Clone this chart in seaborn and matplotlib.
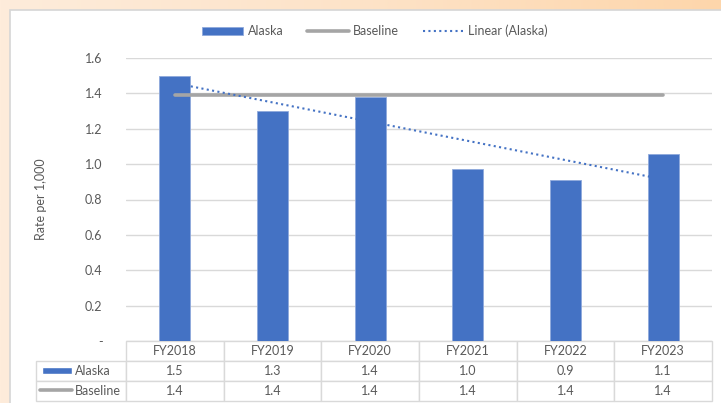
import numpy as np
import matplotlib
matplotlib.use("Agg")
import matplotlib.pyplot as plt
import seaborn as sns
from matplotlib.patches import Rectangle
from matplotlib.lines import Line2D
from matplotlib.ticker import FuncFormatter
from matplotlib.colors import LinearSegmentedColormap

# data
years = ["FY2018", "FY2019", "FY2020", "FY2021", "FY2022", "FY2023"]
alaska = [1.50, 1.30, 1.38, 0.97, 0.91, 1.055]
baseline = [1.39, 1.39, 1.39, 1.39, 1.39, 1.39]
row_names = ["Alaska", "Baseline"]

BLUE = "#4472c4"
GREY = "#a5a5a5"
TXT = "#595959"
GRID = "#d9d9d9"
FS = 9

sns.set_theme(style="white")
plt.rcParams['font.family'] = ['Lato', 'DejaVu Sans']
plt.rcParams['font.size'] = FS

W, H = 721, 403
fig = plt.figure(figsize=(W / 100, H / 100), dpi=100)

# peach background with white chart panel
bg = fig.add_axes([0, 0, 1, 1], zorder=-10)
grad = np.linspace(0, 1, 256).reshape(1, -1)
cmap = LinearSegmentedColormap.from_list("peach", ["#feecdb", "#fde3c8", "#fdd6ab"])
bg.imshow(grad, aspect="auto", cmap=cmap, extent=[0, 1, 0, 1])
bg.add_patch(Rectangle((10 / W, -0.01), 1.0, 1 - 10 / H + 0.01, facecolor="white",
                       edgecolor="#d6d6d6", linewidth=1.2))
bg.set_xlim(0, 1)
bg.set_ylim(0, 1)
bg.axis("off")

# plot area
left, right, top, bottom = 126, 712, 58, 341
ax = fig.add_axes([left / W, 1 - bottom / H, (right - left) / W, (bottom - top) / H])
ax.set_facecolor("none")

sns.barplot(x=years, y=alaska, color=BLUE, saturation=1, width=0.32, ax=ax,
            edgecolor="#8fa9dc", linewidth=0.6, zorder=3)
bars = ax.containers[0]

pos = np.arange(len(years))
base_line, = ax.plot(pos, baseline, color=GREY, lw=2.6, solid_capstyle="round", zorder=4)

# linear trendline of the Alaska series
coef = np.polyfit(pos, alaska, 1)
trend, = ax.plot(pos, np.polyval(coef, pos), color=BLUE, lw=1.5, ls=(0, (1, 1.6)), zorder=5)

ax.set_ylim(0, 1.6)
ax.set_xlim(-0.5, len(years) - 0.5)
ax.set_yticks(np.arange(0, 1.61, 0.2))
ax.yaxis.set_major_formatter(FuncFormatter(lambda v, p: "-" if abs(v) < 1e-9 else f"{v:.1f}"))
ax.grid(axis="y", color=GRID, lw=1)
ax.set_axisbelow(True)
ax.tick_params(axis="y", length=0, pad=17, labelcolor=TXT, labelsize=FS)
ax.tick_params(axis="x", length=0, labelbottom=False)
ax.set_xlabel("")
ax.set_ylabel("Rate per 1,000", color=TXT, fontsize=FS, labelpad=27)
for s in ax.spines.values():
    s.set_visible(False)

# data table under the plot
axw, axh = right - left, bottom - top
lab_w = 90
tbl = ax.table(cellText=[[f"{v:.1f}" for v in alaska], [f"{v:.1f}" for v in baseline]],
               colLabels=years, cellLoc="center",
               bbox=[0, -60 / axh, 1, 60 / axh])
tbl.auto_set_font_size(False)
tbl.set_fontsize(FS)
ch = tbl[1, 0].get_height()
cw = tbl[1, 0].get_width()
for i, name in enumerate(row_names):
    c = tbl.add_cell(i + 1, -1, width=cw * lab_w / (axw / 6), height=ch, text=name, loc="left")
    c.PAD = 0.43
for cell in tbl.get_celld().values():
    cell.set_edgecolor(GRID)
    cell.set_linewidth(1)
    cell.get_text().set_color(TXT)
    cell.get_text().set_fontsize(FS)

# legend keys in the table row labels
ax.add_patch(Rectangle(((42 - left) / axw, (bottom - 374) / axh), 30 / axw, 7 / axh,
                       transform=ax.transAxes, facecolor=BLUE, clip_on=False, zorder=10))
ax.add_line(Line2D([(40 - left) / axw, (72 - left) / axw],
                   [(bottom - 390) / axh] * 2, transform=ax.transAxes,
                   color=GREY, lw=2.6, clip_on=False, zorder=10))

fig.legend([bars, base_line, trend], ["Alaska", "Baseline", "Linear (Alaska)"],
           loc="center", bbox_to_anchor=(375 / W, 1 - 31 / H), ncol=3, frameon=False,
           handlelength=3.3, handletextpad=0.35, columnspacing=1.9,
           labelcolor=TXT, fontsize=FS)

fig.savefig("out.png", dpi=100)
